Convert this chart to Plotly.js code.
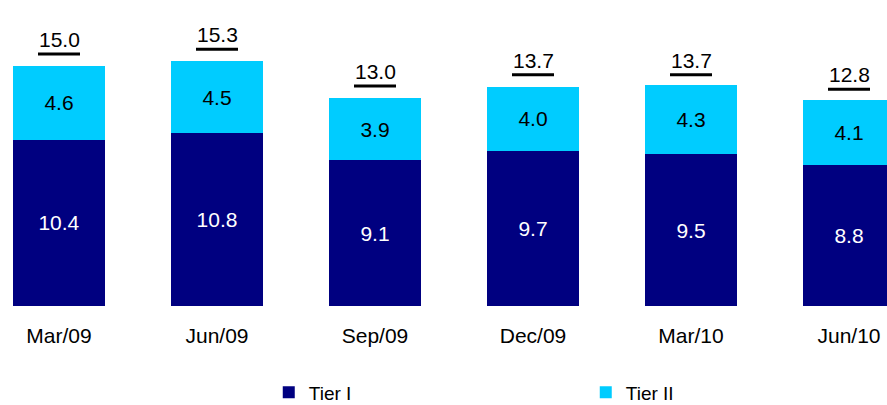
<!DOCTYPE html>
<html>
<head>
<meta charset="utf-8">
<script src="https://cdn.plot.ly/plotly-3.0.1.min.js"></script>
<style>html,body{margin:0;padding:0;background:#fff;}#chart{width:887px;height:405px;}</style>
</head>
<body>
<div id="chart"></div>
<script>
const categories = ["Mar/09", "Jun/09", "Sep/09", "Dec/09", "Mar/10", "Jun/10"];
const tier1 = [10.4, 10.8, 9.1, 9.7, 9.5, 8.8];
const tier2 = [4.6, 4.5, 3.9, 4.0, 4.3, 4.1];
const totals = [15.0, 15.3, 13.0, 13.7, 13.7, 12.8];

const FONT = "Liberation Sans, Arial, sans-serif";
const idx = categories.map((_, i) => i);

const traces = [
  {
    type: "bar", name: "Tier I", x: idx, y: tier1,
    marker: {color: "#000080"}, width: 0.582,
    text: tier1.map(v => v.toFixed(1)), textposition: "inside", insidetextanchor: "middle",
    textfont: {color: "#ffffff", size: 21, family: FONT}, constraintext: "none",
    hoverinfo: "skip"
  },
  {
    type: "bar", name: "Tier II", x: idx, y: tier2,
    marker: {color: "#00CCFF"}, width: 0.582,
    text: tier2.map(v => v.toFixed(1)), textposition: "inside", insidetextanchor: "middle",
    textfont: {color: "#000000", size: 21, family: FONT}, constraintext: "none",
    hoverinfo: "skip"
  }
];

const annotations = totals.map((t, i) => ({
  x: i, y: t, xref: "x", yref: "y",
  text: t.toFixed(1),
  showarrow: false, yanchor: "bottom", yshift: 13,
  font: {size: 21, family: FONT, color: "#000"}
}));

const shapes = totals.map((t, i) => ({
  type: "line", xref: "x", yref: "y",
  xsizemode: "pixel", xanchor: i, x0: -21, x1: 21,
  ysizemode: "pixel", yanchor: t, y0: 12, y1: 12,
  line: {color: "#000", width: 3}
}));

const layout = {
  width: 887, height: 405,
  margin: {l: 0, r: 0, t: 0, b: 99, autoexpand: false},
  barmode: "stack",
  paper_bgcolor: "#fff", plot_bgcolor: "#fff",
  xaxis: {
    range: [-0.3734, 5.2405], tickmode: "array", tickvals: idx, ticktext: categories,
    showgrid: false, zeroline: false, showline: false, ticks: "",
    tickfont: {size: 21, family: FONT, color: "#000"}, ticklabelstandoff: 15
  },
  yaxis: {range: [0, 19.125], visible: false, showgrid: false, zeroline: false},
  showlegend: true,
  legend: {
    orientation: "h", xref: "container", yref: "paper",
    x: 0.303, xanchor: "left", y: -0.282, yanchor: "middle",
    entrywidth: 272, entrywidthmode: "pixels", traceorder: "normal",
    font: {size: 19, family: FONT, color: "#000"}, itemwidth: 30
  },
  annotations: annotations,
  shapes: shapes
};

Plotly.newPlot("chart", traces, layout, {staticPlot: true, displayModeBar: false});
</script>
</body>
</html>
